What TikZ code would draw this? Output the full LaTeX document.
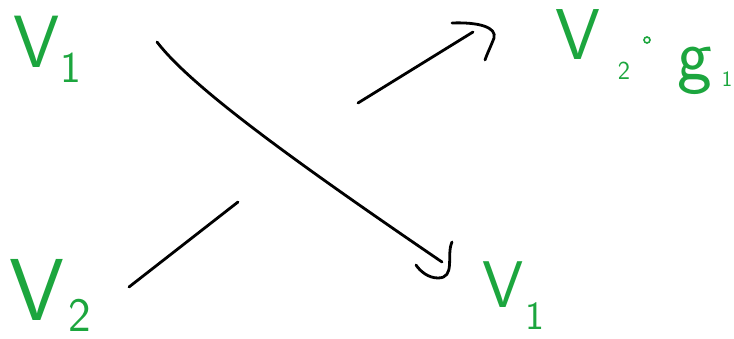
\documentclass[tikz,border=0pt]{standalone}
\usepackage{fontspec}
\definecolor{hgreen}{RGB}{28,166,62}
\newcommand{\fsz}[1]{\fontsize{#1}{#1}\selectfont}
\begin{document}
\begin{tikzpicture}[x=1pt,y=-1pt,
  strand/.style={line width=2.8pt,line cap=round,line join=round,black},
  lbl/.style={text=hgreen,inner sep=0pt,anchor=base,font=\sffamily}]
\useasboundingbox[fill=white] (0,0) rectangle (734,339);
% labels
\node[lbl] (vA) at (37,68) {\fsz{74}V};
\node[lbl] (vAs) at (71,83) {\fsz{44}1};
\node[lbl] (vB) at (37,320) {\fsz{88}V};
\node[lbl] (vBs) at (80,331) {\fsz{48}2};
\node[lbl] (vC) at (503,308) {\fsz{66}V};
\node[lbl] (vCs) at (535,330) {\fsz{40}1};
\node[lbl] (vD) at (578,60) {\fsz{72}V};
\node[lbl] (vDs) at (624,80) {\fsz{26}2};
\node[circle,draw=hgreen,line width=1.6pt,inner sep=0pt,minimum size=6pt] (vDo) at (647,40) {};
\node[lbl] (vDg) at (695,80) {\fsz{74}g};
\node[lbl] (vDgs) at (727,87) {\fsz{22}1};
% strand ends
\coordinate (a1) at (157,42);
\coordinate (a2) at (442,262);
\coordinate (b1) at (129,287);
\coordinate (b2) at (238,202);
\coordinate (c1) at (358,103);
\coordinate (c2) at (473,32);
% over strand
\draw[strand] (a1) .. controls (190,85) and (285,155) .. (a2);
\draw[strand] (452,242) .. controls (446,255) and (456,278) .. (438,278)
  .. controls (428,278) and (420,271) .. (416,265);
% under strand
\draw[strand] (b1) -- (b2);
\draw[strand] (c1) -- (c2);
\draw[strand] (452,23) .. controls (478,22) and (497,27) .. (494,38)
  .. controls (491,46) and (487,54) .. (485,60);
\end{tikzpicture}
\end{document}
